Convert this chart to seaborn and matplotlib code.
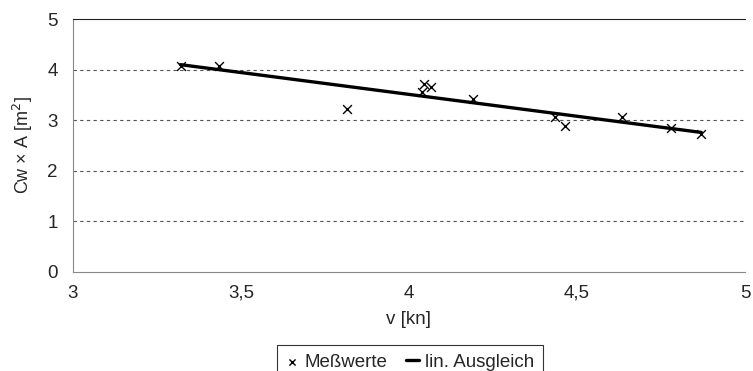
import matplotlib
matplotlib.use("Agg")
import matplotlib.pyplot as plt
import seaborn as sns
import pandas as pd
from matplotlib.ticker import FuncFormatter

# ---------------------------------------------
# Messwerte (abgelesen)
# ---------------------------------------------
v_kn = [3.32, 3.435, 3.815, 4.045, 4.065, 4.04, 4.19, 4.435, 4.465, 4.635, 4.78, 4.87]
cw_a = [4.08, 4.08, 3.22, 3.71, 3.66, 3.56, 3.42, 3.06, 2.88, 3.07, 2.84, 2.73]

x_ticks = [3, 3.5, 4, 4.5, 5]
y_ticks = [0, 1, 2, 3, 4, 5]

df = pd.DataFrame({"v": v_kn, "cwa": cw_a})

sns.set_style("white")
plt.rcParams["font.family"] = ["Liberation Sans", "DejaVu Sans"]
plt.rcParams["font.size"] = 13.5

fig = plt.figure(figsize=(7.53, 3.71), dpi=100)
ax = fig.add_axes([73 / 753, 1 - 272 / 371, (745 - 73) / 753, (272 - 19) / 371])

sns.scatterplot(data=df, x="v", y="cwa", marker="x", color="black", s=40,
                linewidth=1, ax=ax, label="Meßwerte", zorder=3)
sns.regplot(data=df, x="v", y="cwa", scatter=False, ci=None, truncate=True,
            line_kws={"color": "black", "linewidth": 2.4}, ax=ax, label="lin. Ausgleich")

ax.set_xlim(3, 5)
ax.set_ylim(0, 5)
ax.set_xticks(x_ticks)
ax.set_yticks(y_ticks)
fmt = FuncFormatter(lambda v, p: f"{v:g}".replace(".", ","))
ax.xaxis.set_major_formatter(fmt)
ax.yaxis.set_major_formatter(fmt)
ax.tick_params(axis="x", length=0, pad=9, labelsize=13.5)
ax.tick_params(axis="y", length=0, pad=11, labelsize=13.5)

for yv in y_ticks[1:-1]:
    ax.axhline(yv, color="#555555", linestyle=(0, (3, 3)), linewidth=0.8, zorder=0)

ax.spines["right"].set_visible(False)
ax.spines["top"].set_color("#222222")
ax.spines["left"].set_color("#888888")
ax.spines["bottom"].set_color("#888888")

ax.set_xlabel("v [kn]", fontsize=13.5, labelpad=7)
ax.set_ylabel("Cw × A [m$^2$]", fontsize=13, labelpad=9)

handles, labels = ax.get_legend_handles_labels()
if ax.get_legend():
    ax.get_legend().remove()
leg = fig.legend(handles, labels, loc="upper center", bbox_to_anchor=(410 / 753, 1 - 345 / 371),
                 ncol=2, frameon=True, fancybox=False, edgecolor="black",
                 handlelength=0.7, handletextpad=0.3, columnspacing=1.0,
                 borderpad=0.45, borderaxespad=0, fontsize=13.5, markerscale=0.7)
leg.get_frame().set_linewidth(0.8)

fig.savefig("out.png", dpi=100)
